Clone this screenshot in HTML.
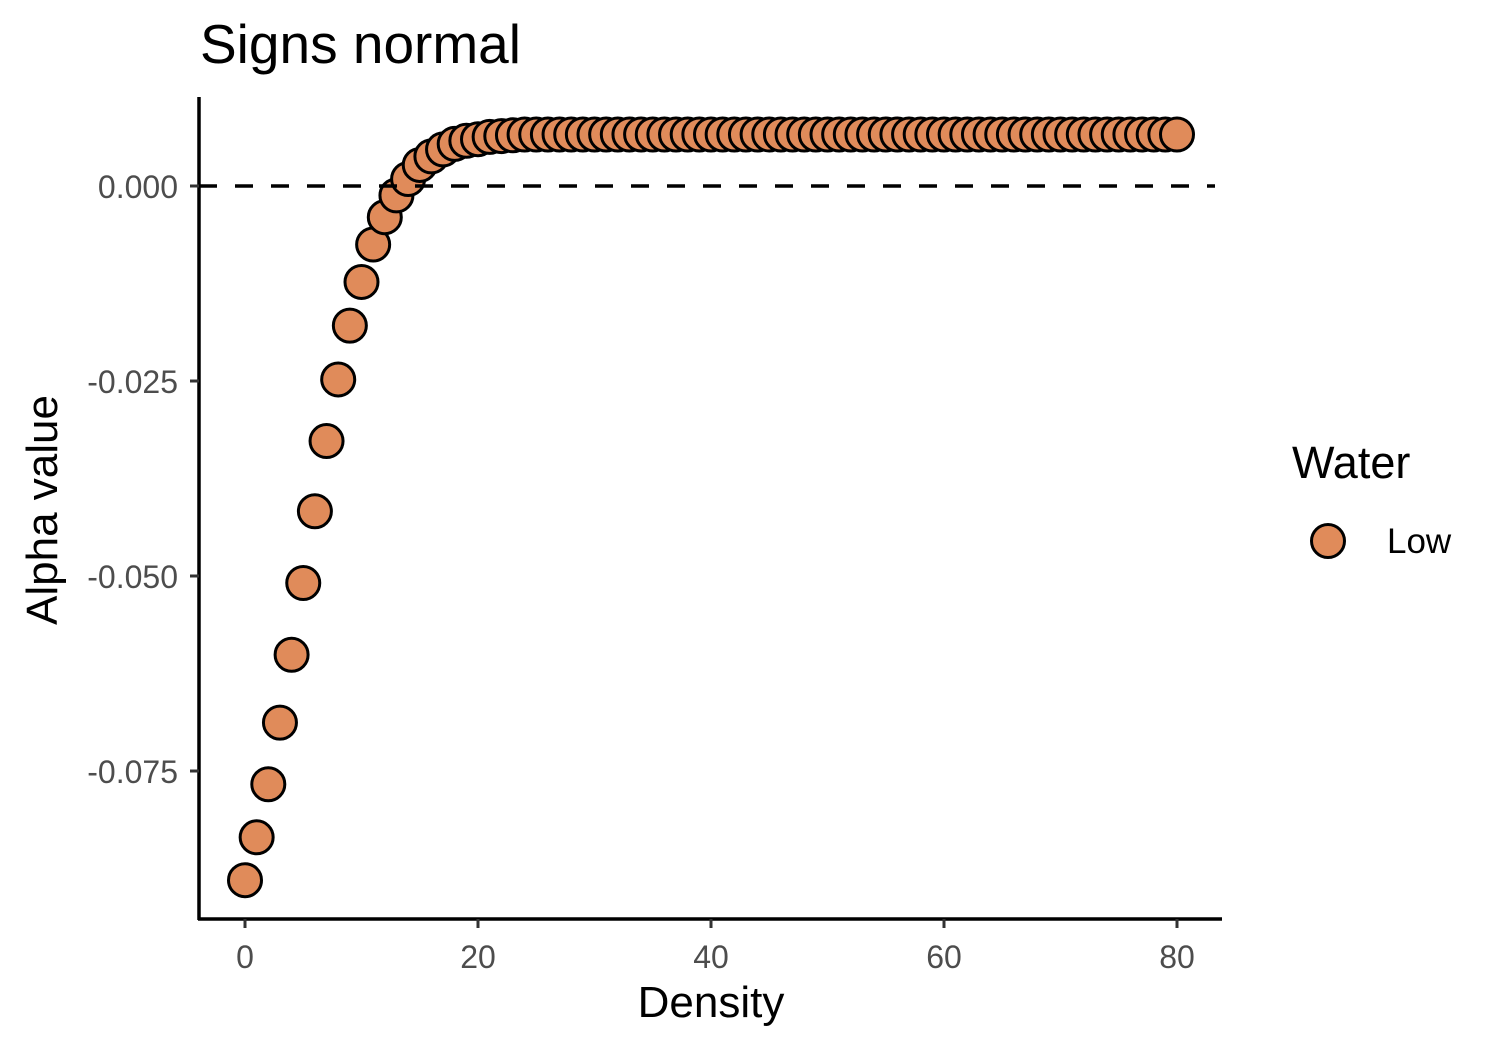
<!DOCTYPE html>
<html><head><meta charset="utf-8"><style>
html,body{margin:0;padding:0;background:#fff;}
svg{display:block;font-family:"Liberation Sans",Arial,sans-serif;}
</style></head><body>
<svg id="chart" width="1500" height="1050" viewBox="0 0 1500 1050">
<text x="200" y="63" font-size="55" fill="#000">Signs normal</text>
<g id="points"></g>
<g id="axes"></g>
<text x="711" y="1017" font-size="44" text-anchor="middle" fill="#000">Density</text>
<text transform="translate(57,510) rotate(-90)" font-size="44" text-anchor="middle" fill="#000">Alpha value</text>
<g>
<text x="1292" y="478" font-size="45" fill="#000">Water</text>
<circle cx="1328" cy="541" r="16.5" fill="#E08B5A" stroke="#000" stroke-width="3"/>
<text x="1387" y="553" font-size="35" fill="#000">Low</text>
</g>
</svg>
<script>
const densities = [];
for (let i = 0; i <= 80; i++) densities.push(i);
const alphaValues = [-0.0890,-0.0835,-0.0767,-0.0688,-0.0601,-0.0509,-0.0417,-0.0327,-0.0248,-0.0179,
-0.0123,-0.0075,-0.0040,-0.0012,0.0009,0.0027,0.0038,0.0047,0.0054,0.0058,
0.0060,0.0063,0.0064,0.0065,0.0066,0.0066,0.0066,0.0066,0.0066,0.0066,
0.0066,0.0066,0.0066,0.0066,0.0066,0.0066,0.0066,0.0066,0.0066,0.0066,
0.0066,0.0066,0.0066,0.0066,0.0066,0.0066,0.0066,0.0066,0.0066,0.0066,
0.0066,0.0066,0.0066,0.0066,0.0066,0.0066,0.0066,0.0066,0.0066,0.0066,
0.0066,0.0066,0.0066,0.0066,0.0066,0.0066,0.0066,0.0066,0.0066,0.0066,
0.0066,0.0066,0.0066,0.0066,0.0066,0.0066,0.0066,0.0066,0.0066,0.0066,0.0066];
const xTicks = [0,20,40,60,80];
const yTicks = [0.000,-0.025,-0.050,-0.075];
const yTickLabels = ["0.000","-0.025","-0.050","-0.075"];

const NS = "http://www.w3.org/2000/svg";
function xs(v){ return 245 + v * (1177 - 245) / 80; }
function ys(v){ return 186 - v * (381 - 186) / 0.025; }
function mk(tag, attrs, parent){
  const e = document.createElementNS(NS, tag);
  for (const k in attrs) e.setAttribute(k, attrs[k]);
  parent.appendChild(e); return e;
}
const pg = document.getElementById('points');
densities.forEach((d, i) => {
  const c = mk('circle', {cx: xs(d), cy: ys(alphaValues[i]), r: 16.5, fill: '#E08B5A', stroke: '#000', 'stroke-width': 3}, pg);
  
  
});
const ax = document.getElementById('axes');
const zl = mk('line', {x1: 199, x2: 1215, y1: ys(0), y2: ys(0), stroke: '#000', 'stroke-width': 3.5, 'stroke-dasharray': '18 18'}, ax);


const yl = mk('line', {x1: 199, x2: 199, y1: 97, y2: 920, stroke: '#000', 'stroke-width': 3.5}, ax);


const xl = mk('line', {x1: 198, x2: 1222, y1: 919, y2: 919, stroke: '#000', 'stroke-width': 3.5}, ax);


yTicks.forEach((v, i) => {
  const t = mk('line', {x1: 190, x2: 199, y1: ys(v), y2: ys(v), stroke: '#333', 'stroke-width': 3}, ax);
  
  
  const l = mk('text', {x: 178, y: ys(v) + 12, 'font-size': 32, 'text-anchor': 'end', fill: '#4d4d4d'}, ax);
  l.textContent = yTickLabels[i];
  
  
});
xTicks.forEach(v => {
  const t = mk('line', {x1: xs(v), x2: xs(v), y1: 919, y2: 928, stroke: '#333', 'stroke-width': 3}, ax);
  
  
  const l = mk('text', {x: xs(v), y: 968, 'font-size': 32, 'text-anchor': 'middle', fill: '#4d4d4d'}, ax);
  l.textContent = String(v);
  
  
});
</script>
</body></html>
